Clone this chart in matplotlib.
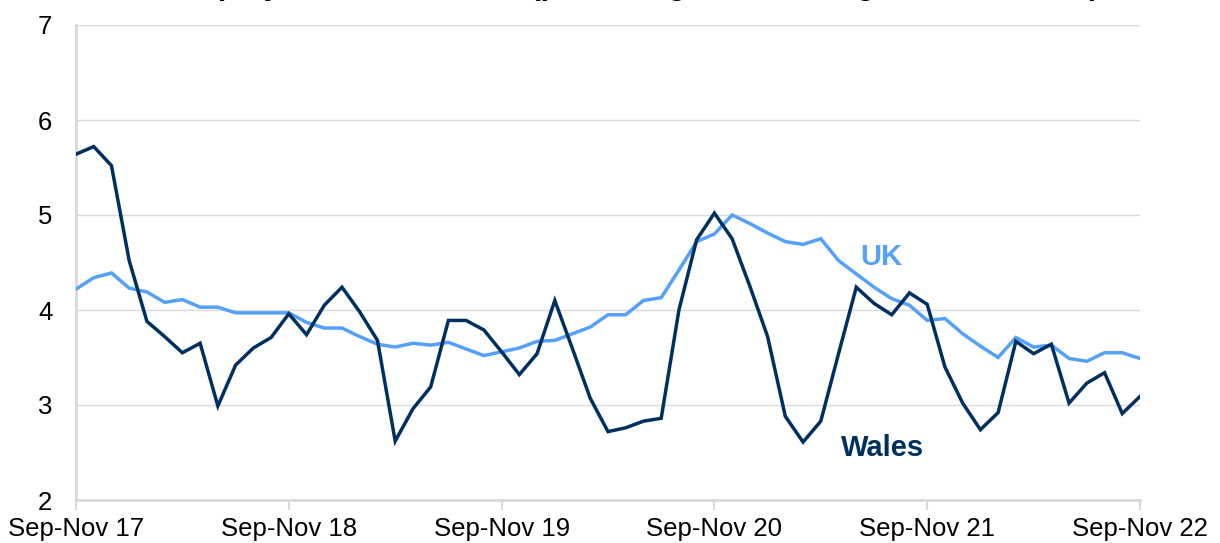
import matplotlib
matplotlib.use("Agg")
import matplotlib.pyplot as plt

plt.rcParams['font.family'] = ['Liberation Sans', 'DejaVu Sans']

periods = ["Sep-Nov 17", "Sep-Nov 18", "Sep-Nov 19", "Sep-Nov 20", "Sep-Nov 21", "Sep-Nov 22"]

wales = [5.64, 5.72, 5.52, 4.52, 3.88, 3.72, 3.55, 3.65, 2.99, 3.42,
         3.60, 3.71, 3.96, 3.74, 4.05, 4.24, 3.98, 3.68, 2.62, 2.96,
         3.19, 3.89, 3.89, 3.79, 3.56, 3.32, 3.54, 4.10, 3.59, 3.07,
         2.72, 2.76, 2.83, 2.86, 4.00, 4.74, 5.02, 4.75, 4.25, 3.72,
         2.88, 2.61, 2.83, 3.54, 4.24, 4.07, 3.95, 4.18, 4.06, 3.40,
         3.02, 2.74, 2.92, 3.67, 3.54, 3.64, 3.02, 3.23, 3.34, 2.91,
         3.09]

uk = [4.22, 4.34, 4.39, 4.23, 4.19, 4.08, 4.11, 4.03, 4.03, 3.97,
      3.97, 3.97, 3.97, 3.87, 3.81, 3.81, 3.72, 3.64, 3.61, 3.65,
      3.63, 3.66, 3.59, 3.52, 3.56, 3.60, 3.67, 3.68, 3.75, 3.82,
      3.95, 3.95, 4.10, 4.13, 4.42, 4.72, 4.80, 5.00, 4.91, 4.81,
      4.72, 4.69, 4.75, 4.52, 4.38, 4.24, 4.12, 4.05, 3.89, 3.91,
      3.75, 3.62, 3.50, 3.71, 3.61, 3.63, 3.49, 3.46, 3.55, 3.55,
      3.49]

wales_color = '#00305F'
uk_color = '#55A0FA'
grid_color = '#D9D9D9'

fig = plt.figure(figsize=(12.2, 5.43), dpi=100)
ax = fig.add_axes([76/1220, 43/543, 1064/1220, 475/543])

x = list(range(len(wales)))
ax.plot(x, uk, color=uk_color, lw=2.5, solid_joinstyle='miter', zorder=3)
ax.plot(x, wales, color=wales_color, lw=2.5, solid_joinstyle='miter', zorder=4)

ax.set_xlim(0, len(wales) - 1)
ax.set_ylim(2, 7)
ax.set_yticks([2, 3, 4, 5, 6, 7])
ax.yaxis.grid(True, color=grid_color, lw=1.0)
ax.set_axisbelow(True)

ax.set_xticks(list(range(0, len(wales), 12)))
ax.set_xticklabels(periods)

for s in ['top', 'right']:
    ax.spines[s].set_visible(False)
ax.spines['left'].set_color(grid_color)
ax.spines['left'].set_linewidth(2.0)
ax.spines['bottom'].set_color(grid_color)
ax.spines['bottom'].set_linewidth(2.0)

ax.tick_params(axis='y', length=0, pad=17, labelsize=18.5, labelcolor='#000000')
ax.tick_params(axis='x', length=7, width=1.5, color=grid_color, pad=5,
               labelsize=18.5, labelcolor='#000000')

ax.text(45.4, 4.56, "UK", color=uk_color, fontsize=21, fontweight='bold',
        ha='center', va='center')
ax.text(45.5, 2.55, "Wales", color=wales_color, fontsize=21, fontweight='bold',
        ha='center', va='center')

fig.text(0.505, 1 + 6/543, "Unemployment rate, Wales (percentage of those aged 16 and over)",
         fontsize=22, fontweight='bold', ha='center', va='baseline', color='#000000')

fig.savefig("out.png", dpi=100)
